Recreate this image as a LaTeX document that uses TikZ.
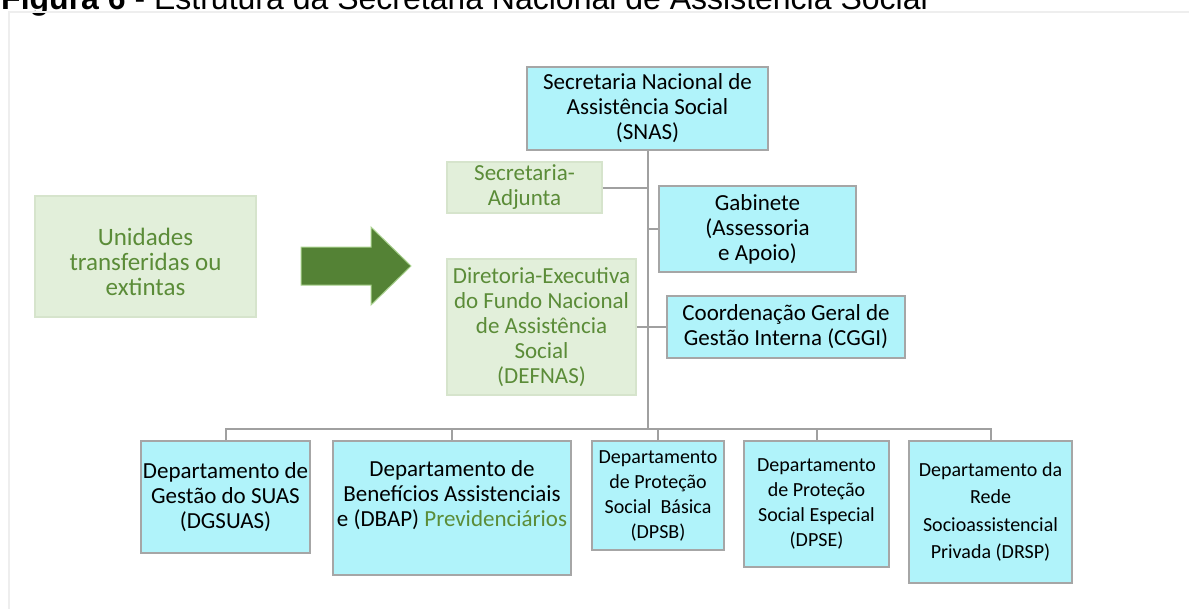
\documentclass[tikz,border=0pt]{standalone}
\usepackage{fontspec}
\setmainfont{Carlito}
\newfontfamily\titlefont{Liberation Sans}
\definecolor{cyanfill}{HTML}{B0F3FA}
\definecolor{boxgray}{HTML}{A6A6A6}
\definecolor{greenfill}{HTML}{E2EFDA}
\definecolor{greenborder}{HTML}{D6E4CC}
\definecolor{greentext}{HTML}{5B8C38}
\definecolor{arrowgreen}{HTML}{548235}
\definecolor{arrowedge}{HTML}{A9D18E}
\definecolor{linegray}{HTML}{A0A0A0}
\definecolor{framegray}{HTML}{EEEEEE}
\begin{document}
\begin{tikzpicture}[x=1pt,y=-1pt,
  cyanbox/.style={draw=boxgray, line width=1.5pt, fill=cyanfill, inner sep=0pt, align=center, font=\fontsize{23}{25}\selectfont},
  smallbox/.style={cyanbox, font=\fontsize{20}{25}\selectfont},
  greenbox/.style={draw=greenborder, line width=1.5pt, fill=greenfill, text=greentext, inner sep=0pt, align=center, font=\fontsize{23}{25}\selectfont},
  plaintext/.style={inner sep=0pt, align=center},
  link/.style={draw=linegray, line width=2pt},
  bigarrow/.style={fill=arrowgreen, draw=arrowedge, line width=1pt, line join=miter}]
\useasboundingbox (0,0) rectangle (1189,608);
% title (cut off at the top)
\node[anchor=base west, inner sep=0pt, font=\titlefont\fontsize{32}{36}\selectfont] (title) at (1,9) {\textbf{Figura 6} - Estrutura da Secretaria Nacional de Assistência Social};
% frame
\draw[framegray, line width=2pt] (9,640) -- (9,12) -- (1220,12);
% left unit
\node[greenbox, minimum width=221pt, minimum height=121pt] (unidbox) at (145.5,256.5) {};
\node[plaintext, text=greentext, font=\fontsize{25}{25}\selectfont] (unid) at (145.5,262) {Unidades\\transferidas ou\\extintas};
% arrow
\path[bigarrow] (301,247) -- (371,247) -- (371,227) -- (411,266) -- (371,305) -- (371,285) -- (301,285) -- cycle;
% top
\node[cyanbox, minimum width=241pt, minimum height=83pt] (snas) at (647.5,108.5) {Secretaria Nacional de\\Assistência Social\\(SNAS)};
\node[greenbox, minimum width=155pt, minimum height=51pt] (sa) at (524.5,187.5) {Secretaria-\\Adjunta};
\node[cyanbox, minimum width=197pt, minimum height=86pt] (gab) at (757.5,229) {Gabinete\\(Assessoria\\e Apoio)};
\node[greenbox, minimum width=189pt, minimum height=136pt] (defnas) at (541.5,327) {Diretoria-Executiva\\do Fundo Nacional\\de Assistência\\Social\\(DEFNAS)};
\node[cyanbox, minimum width=238pt, minimum height=62pt] (cggi) at (786,327) {Coordenação Geral de\\Gestão Interna (CGGI)};
% bottom
\node[cyanbox, minimum width=169pt, minimum height=112pt] (dgsuas) at (225.5,497) {Departamento de\\Gestão do SUAS\\(DGSUAS)};
\node[cyanbox, minimum width=238pt, minimum height=134pt] (dbap) at (452,508) {};
\node[plaintext, font=\fontsize{23}{25}\selectfont] (dbaptext) at (452,495) {Departamento de\\Benefícios Assistenciais\\e (DBAP) \textcolor{greentext}{Previdenciários}};
\node[smallbox, minimum width=132pt, minimum height=109pt] (dpsb) at (658,495.5) {Departamento\\de Proteção\\Social~~Básica\\(DPSB)};
\node[smallbox, minimum width=145pt, minimum height=126pt] (dpse) at (816.5,504) {Departamento\\de Proteção\\Social Especial\\(DPSE)};
\node[smallbox, minimum width=163pt, minimum height=142pt, font=\fontsize{20}{27.5}\selectfont] (drsp) at (990.5,512) {Departamento da\\Rede\\Socioassistencial\\Privada (DRSP)};
% connectors
\coordinate (bus) at (647.5,429);
\draw[link] (snas.south) -- (bus);
\draw[link] (sa.east) -- (sa.east -| snas.south);
\draw[link] (gab.west) -- (gab.west -| snas.south);
\draw[link] (defnas.east) -- (cggi.west);
\draw[link] (dgsuas.north) |- (bus) -| (drsp.north);
\draw[link] (dbap.north) -- (dbap.north |- bus);
\draw[link] (dpsb.north) -- (dpsb.north |- bus);
\draw[link] (dpse.north) -- (dpse.north |- bus);
\end{tikzpicture}
\end{document}
